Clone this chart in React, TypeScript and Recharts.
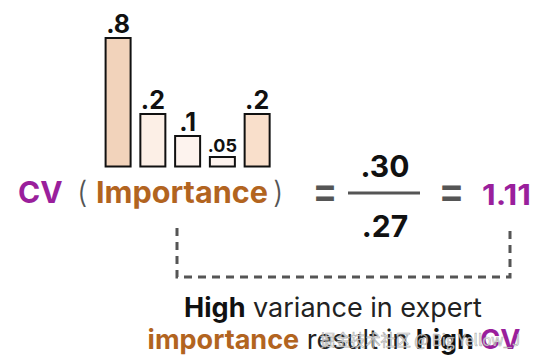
import { Bar, BarChart, Cell, Customized, LabelList, XAxis, YAxis } from 'recharts'

// expert importance weights, as printed over each bar
const experts = ['e1', 'e2', 'e3', 'e4', 'e5']
const barLabels = ['.8', '.2', '.1', '.05', '.2']
// drawn bar heights (the figure is not to scale with its labels)
const barHeights = [0.8, 0.327, 0.19, 0.059, 0.327]
const barColors = ['#f2d3bb', '#fcefe6', '#fdf3ee', '#fdf3ee', '#f9dfcb']

const numerator = '.30'
const denominator = '.27'
const cvValue = '1.11'

const PURPLE = '#9a1f9c'
const BROWN = '#b2641f'
const GRAY = '#555'
const FONT = 'Inter, "Noto Sans", sans-serif'

const data = experts.map((e, i) => ({ name: e, h: barHeights[i] }))

function BarLabel(props: any) {
  const { x, y, width, index } = props
  const small = index === 3
  return (
    <text
      x={x + width / 2}
      y={y - 5}
      textAnchor="middle"
      fontFamily={FONT}
      fontWeight={700}
      fontSize={small ? 18 : 25}
      fill="#111"
    >
      {barLabels[index]}
    </text>
  )
}

function Equation() {
  return (
    <g fontFamily={FONT}>
      <text x={18} y={203} fontSize={30} fontWeight={700} fill={PURPLE}>CV</text>
      <text x={77} y={203} fontSize={30} fontWeight={300} fill={GRAY}>(</text>
      <text x={96} y={203} fontSize={30} fontWeight={700} fill={BROWN} textLength={172} lengthAdjust="spacingAndGlyphs">Importance</text>
      <text x={273} y={203} fontSize={30} fontWeight={300} fill={GRAY}>)</text>

      <text x={312} y={207} fontSize={48} fontWeight={500} fill={GRAY} textLength={26} lengthAdjust="spacingAndGlyphs">=</text>
      <line x1={348} x2={420} y1={193} y2={193} stroke={GRAY} strokeWidth={3} />
      <text x={385} y={177} textAnchor="middle" fontSize={30} fontWeight={700} fill="#111">{numerator}</text>
      <text x={385} y={237} textAnchor="middle" fontSize={30} fontWeight={700} fill="#111">{denominator}</text>
      <text x={438} y={207} fontSize={48} fontWeight={500} fill={GRAY} textLength={27} lengthAdjust="spacingAndGlyphs">=</text>
      <text x={482} y={205} fontSize={29} fontWeight={700} fill={PURPLE} textLength={49} lengthAdjust="spacingAndGlyphs">{cvValue}</text>

      <path d="M177 228 V277 H510 V228" fill="none" stroke={GRAY} strokeWidth={3} strokeDasharray="8 6" />

      <text x={333} y={317} textAnchor="middle" fontSize={27}>
        <tspan fontWeight={700} fill="#111">High</tspan>
        <tspan fontWeight={400} fill="#222"> variance in expert</tspan>
      </text>
      <text x={334} y={349} textAnchor="middle" fontSize={27}>
        <tspan fontWeight={700} fill={BROWN}>importance</tspan>
        <tspan fontWeight={400} fill="#222"> result in </tspan>
        <tspan fontWeight={700} fill="#111">high</tspan>
        <tspan fontWeight={700} fill={PURPLE}> CV</tspan>
      </text>
      <text
        x={320}
        y={346}
        fontSize={16}
        fontFamily='"Noto Sans CJK SC", sans-serif'
        fill="#fff"
        fillOpacity={0.8}
        stroke="#777"
        strokeOpacity={0.6}
        strokeWidth={0.7}
        textLength={200}
        lengthAdjust="spacingAndGlyphs"
      >
        掘金技术社区 @ Big Yellow_J
      </text>
    </g>
  )
}

export default function App() {
  return (
    <div style={{ position: 'absolute', left: 0, top: 0, width: 535, height: 360, background: '#fff' }}>
      <BarChart
        width={535}
        height={360}
        data={data}
        margin={{ top: 38, right: 264, left: 105, bottom: 193.5 }}
        barSize={25}
      >
        <XAxis
          dataKey="name"
          height={0}
          tick={false}
          tickLine={false}
          axisLine={{ stroke: '#111', strokeWidth: 3 }}
          padding={{ left: -4.4, right: -3.4 }}
        />
        <YAxis hide domain={[0, 0.8]} />
        <Bar dataKey="h" stroke="#111" strokeWidth={2} isAnimationActive={false}>
          {data.map((d, i) => (
            <Cell key={d.name} fill={barColors[i]} />
          ))}
          <LabelList dataKey="h" content={<BarLabel />} />
        </Bar>
        <Customized component={Equation} />
      </BarChart>
    </div>
  )
}
